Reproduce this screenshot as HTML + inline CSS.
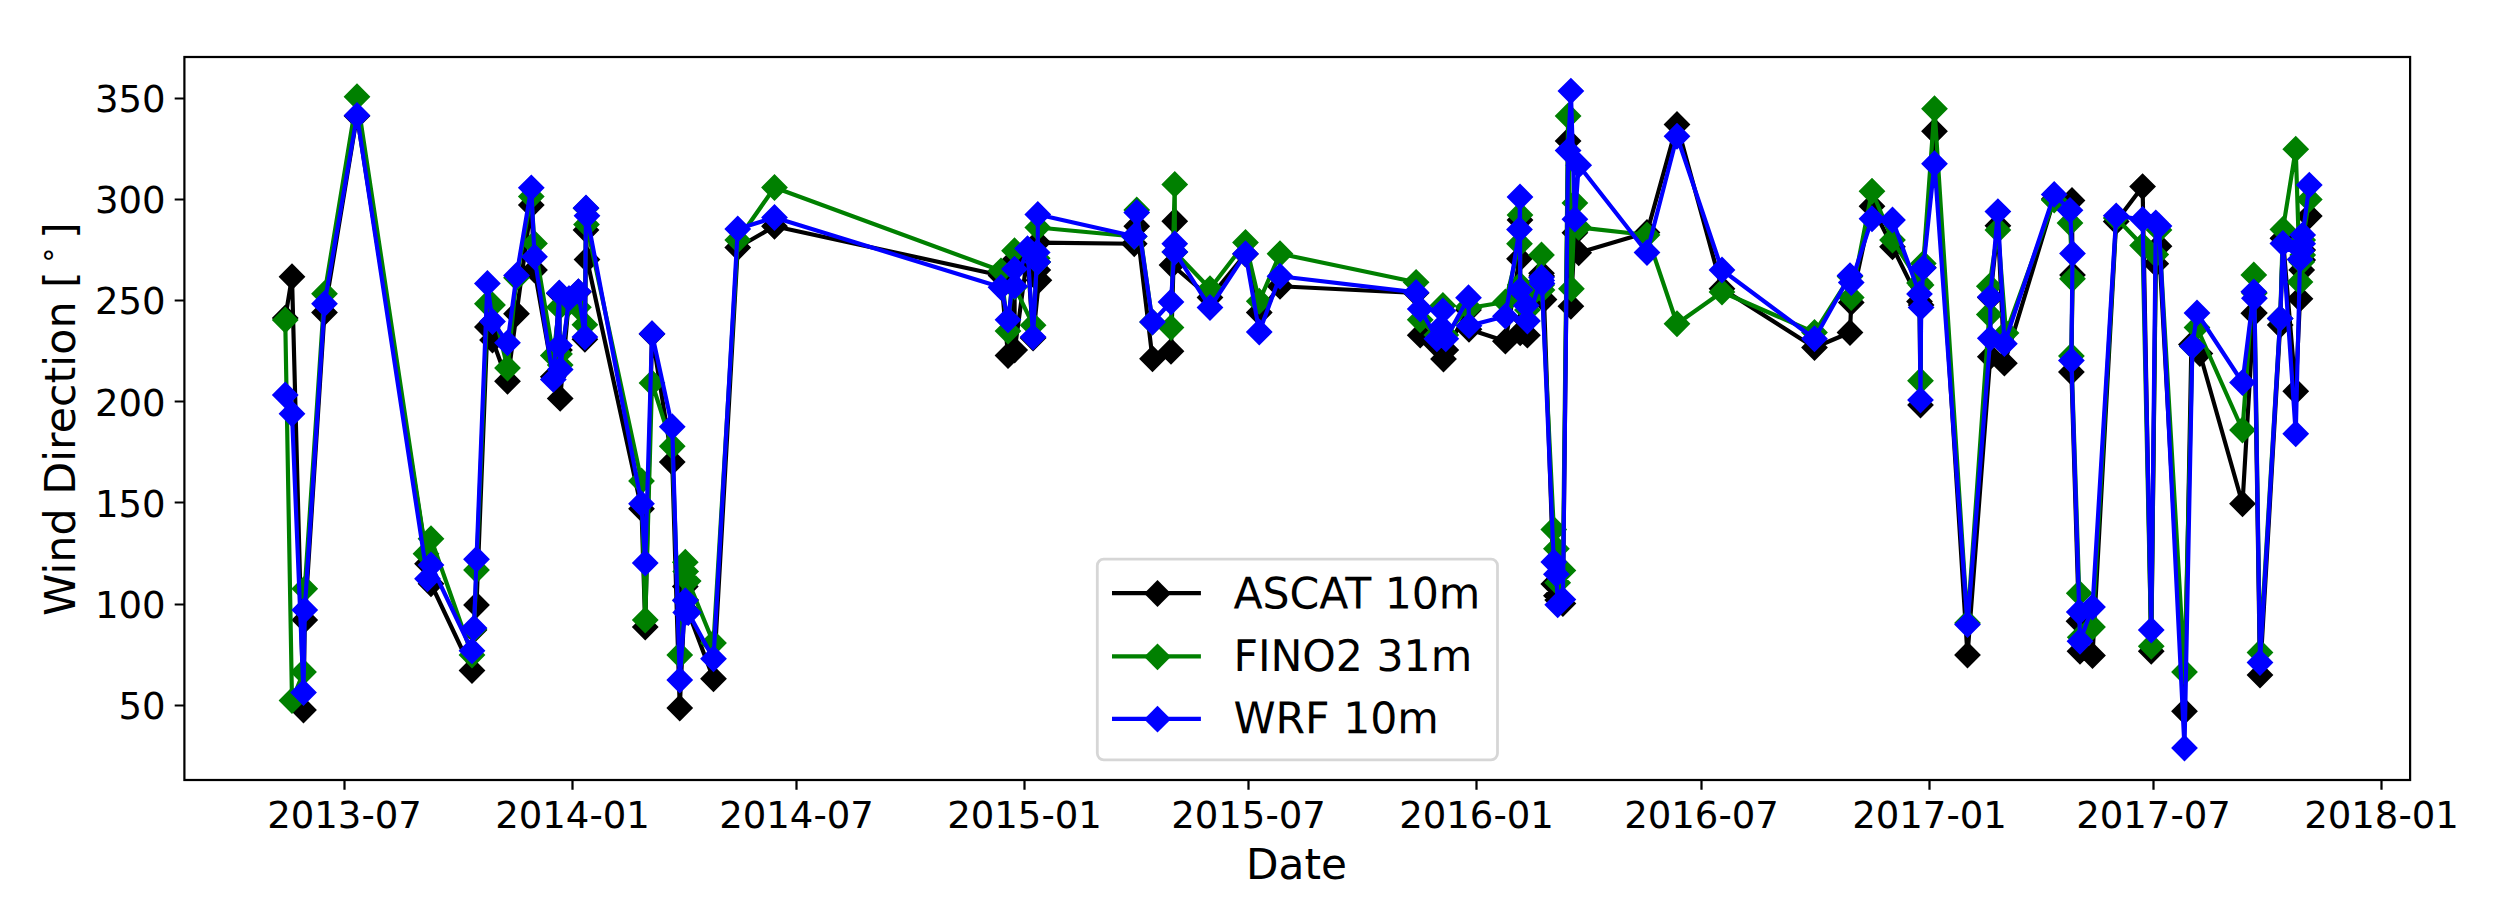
<!DOCTYPE html>
<html lang="en"><head><meta charset="utf-8"><title>Wind Direction</title>
<style>html,body{margin:0;padding:0;background:#fff}body{width:2496px;height:924px;overflow:hidden}svg{display:block}</style>
</head><body>
<svg width="2496" height="924" viewBox="0 0 2496 924" font-family="'DejaVu Sans','Liberation Sans',sans-serif" fill="#000">
<rect x="0" y="0" width="2496" height="924" fill="#fff"/>
<clipPath id="ax"><rect x="184.4" y="57.0" width="2225.7" height="723.0"/></clipPath>
<g clip-path="url(#ax)">
<polyline points="285.25,318 292,276.75 303.5,710 304.75,620 324.5,312.5 357,116 427.5,563.75 431,583.75 472,670.5 474,630 476.5,605 487.4,327 492.5,340 507.5,381.25 516.5,313.75 531.3,205.1 534.5,270 553.3,376.8 559.3,293.5 559.5,350 560.2,398.4 569,299 578.4,292 584.9,339.3 586,230.1 587,259.5 641.5,508.75 645.25,627 652,334 672.25,462 679.75,708 685.3,586.5 685.7,600 688.2,612 713.5,678.75 737.75,247.5 774.5,226.25 1001,275.5 1008,355.5 1014.5,260 1014.7,350 1027.5,255 1033.1,338 1038.9,280.3 1037.8,270 1037.8,242.6 1134.25,243.75 1136.75,226.25 1152.5,358.75 1171,351.25 1174.75,221.25 1172,265 1210,297.5 1245.5,254 1259.25,312.5 1280,286.25 1416.1,293 1420.2,335.2 1436.9,345 1441.2,336 1443.5,359 1445.8,350 1468.5,310 1469,329.3 1505.4,341.2 1519.5,258.75 1520,220 1520.2,332.9 1526.2,320 1527.4,335.2 1541.5,273.3 1541.7,276 1544,299.5 1553.8,584 1556.4,595.7 1557.7,600 1562.9,603.5 1568.1,140.9 1570.9,306.25 1574.9,232.8 1578.7,252.8 1647,232.5 1677,124.5 1722,288.75 1814.5,347.5 1850,332.5 1851.25,302.5 1872,206.25 1892.5,246.8 1919.5,301.4 1920.5,405 1921.1,305 1923.3,267.5 1934.5,131.25 1967.5,655 1990.3,356.7 1990.3,297.5 1997.9,225.7 2004.4,363.2 2054.2,199 2072,200.5 2072.5,275 2071.4,372 2079,621.25 2080,651.25 2092.5,655.5 2116.2,221.5 2142.6,186.6 2151.25,651.25 2155.8,263.7 2159,246.2 2184.5,711.25 2191.4,344.4 2199.9,353.5 2242.5,503.75 2253.8,313.2 2254.4,313 2260,675 2280.2,325 2282.9,238.3 2295.75,391.25 2300,298.8 2301.7,270 2302.7,260 2302.7,250 2309.3,216.1" fill="none" stroke="#000000" stroke-width="4.17" stroke-linejoin="round" stroke-linecap="square"/>
<path d="M285.25 304.6l13.4 13.4l-13.4 13.4l-13.4 -13.4zM292 263.35l13.4 13.4l-13.4 13.4l-13.4 -13.4zM303.5 696.6l13.4 13.4l-13.4 13.4l-13.4 -13.4zM304.75 606.6l13.4 13.4l-13.4 13.4l-13.4 -13.4zM324.5 299.1l13.4 13.4l-13.4 13.4l-13.4 -13.4zM357 102.6l13.4 13.4l-13.4 13.4l-13.4 -13.4zM427.5 550.35l13.4 13.4l-13.4 13.4l-13.4 -13.4zM431 570.35l13.4 13.4l-13.4 13.4l-13.4 -13.4zM472 657.1l13.4 13.4l-13.4 13.4l-13.4 -13.4zM474 616.6l13.4 13.4l-13.4 13.4l-13.4 -13.4zM476.5 591.6l13.4 13.4l-13.4 13.4l-13.4 -13.4zM487.4 313.6l13.4 13.4l-13.4 13.4l-13.4 -13.4zM492.5 326.6l13.4 13.4l-13.4 13.4l-13.4 -13.4zM507.5 367.85l13.4 13.4l-13.4 13.4l-13.4 -13.4zM516.5 300.35l13.4 13.4l-13.4 13.4l-13.4 -13.4zM531.3 191.7l13.4 13.4l-13.4 13.4l-13.4 -13.4zM534.5 256.6l13.4 13.4l-13.4 13.4l-13.4 -13.4zM553.3 363.4l13.4 13.4l-13.4 13.4l-13.4 -13.4zM559.3 280.1l13.4 13.4l-13.4 13.4l-13.4 -13.4zM559.5 336.6l13.4 13.4l-13.4 13.4l-13.4 -13.4zM560.2 385l13.4 13.4l-13.4 13.4l-13.4 -13.4zM569 285.6l13.4 13.4l-13.4 13.4l-13.4 -13.4zM578.4 278.6l13.4 13.4l-13.4 13.4l-13.4 -13.4zM584.9 325.9l13.4 13.4l-13.4 13.4l-13.4 -13.4zM586 216.7l13.4 13.4l-13.4 13.4l-13.4 -13.4zM587 246.1l13.4 13.4l-13.4 13.4l-13.4 -13.4zM641.5 495.35l13.4 13.4l-13.4 13.4l-13.4 -13.4zM645.25 613.6l13.4 13.4l-13.4 13.4l-13.4 -13.4zM652 320.6l13.4 13.4l-13.4 13.4l-13.4 -13.4zM672.25 448.6l13.4 13.4l-13.4 13.4l-13.4 -13.4zM679.75 694.6l13.4 13.4l-13.4 13.4l-13.4 -13.4zM685.3 573.1l13.4 13.4l-13.4 13.4l-13.4 -13.4zM685.7 586.6l13.4 13.4l-13.4 13.4l-13.4 -13.4zM688.2 598.6l13.4 13.4l-13.4 13.4l-13.4 -13.4zM713.5 665.35l13.4 13.4l-13.4 13.4l-13.4 -13.4zM737.75 234.1l13.4 13.4l-13.4 13.4l-13.4 -13.4zM774.5 212.85l13.4 13.4l-13.4 13.4l-13.4 -13.4zM1001 262.1l13.4 13.4l-13.4 13.4l-13.4 -13.4zM1008 342.1l13.4 13.4l-13.4 13.4l-13.4 -13.4zM1014.5 246.6l13.4 13.4l-13.4 13.4l-13.4 -13.4zM1014.7 336.6l13.4 13.4l-13.4 13.4l-13.4 -13.4zM1027.5 241.6l13.4 13.4l-13.4 13.4l-13.4 -13.4zM1033.1 324.6l13.4 13.4l-13.4 13.4l-13.4 -13.4zM1038.9 266.9l13.4 13.4l-13.4 13.4l-13.4 -13.4zM1037.8 256.6l13.4 13.4l-13.4 13.4l-13.4 -13.4zM1037.8 229.2l13.4 13.4l-13.4 13.4l-13.4 -13.4zM1134.25 230.35l13.4 13.4l-13.4 13.4l-13.4 -13.4zM1136.75 212.85l13.4 13.4l-13.4 13.4l-13.4 -13.4zM1152.5 345.35l13.4 13.4l-13.4 13.4l-13.4 -13.4zM1171 337.85l13.4 13.4l-13.4 13.4l-13.4 -13.4zM1174.75 207.85l13.4 13.4l-13.4 13.4l-13.4 -13.4zM1172 251.6l13.4 13.4l-13.4 13.4l-13.4 -13.4zM1210 284.1l13.4 13.4l-13.4 13.4l-13.4 -13.4zM1245.5 240.6l13.4 13.4l-13.4 13.4l-13.4 -13.4zM1259.25 299.1l13.4 13.4l-13.4 13.4l-13.4 -13.4zM1280 272.85l13.4 13.4l-13.4 13.4l-13.4 -13.4zM1416.1 279.6l13.4 13.4l-13.4 13.4l-13.4 -13.4zM1420.2 321.8l13.4 13.4l-13.4 13.4l-13.4 -13.4zM1436.9 331.6l13.4 13.4l-13.4 13.4l-13.4 -13.4zM1441.2 322.6l13.4 13.4l-13.4 13.4l-13.4 -13.4zM1443.5 345.6l13.4 13.4l-13.4 13.4l-13.4 -13.4zM1445.8 336.6l13.4 13.4l-13.4 13.4l-13.4 -13.4zM1468.5 296.6l13.4 13.4l-13.4 13.4l-13.4 -13.4zM1469 315.9l13.4 13.4l-13.4 13.4l-13.4 -13.4zM1505.4 327.8l13.4 13.4l-13.4 13.4l-13.4 -13.4zM1519.5 245.35l13.4 13.4l-13.4 13.4l-13.4 -13.4zM1520 206.6l13.4 13.4l-13.4 13.4l-13.4 -13.4zM1520.2 319.5l13.4 13.4l-13.4 13.4l-13.4 -13.4zM1526.2 306.6l13.4 13.4l-13.4 13.4l-13.4 -13.4zM1527.4 321.8l13.4 13.4l-13.4 13.4l-13.4 -13.4zM1541.5 259.9l13.4 13.4l-13.4 13.4l-13.4 -13.4zM1541.7 262.6l13.4 13.4l-13.4 13.4l-13.4 -13.4zM1544 286.1l13.4 13.4l-13.4 13.4l-13.4 -13.4zM1553.8 570.6l13.4 13.4l-13.4 13.4l-13.4 -13.4zM1556.4 582.3l13.4 13.4l-13.4 13.4l-13.4 -13.4zM1557.7 586.6l13.4 13.4l-13.4 13.4l-13.4 -13.4zM1562.9 590.1l13.4 13.4l-13.4 13.4l-13.4 -13.4zM1568.1 127.5l13.4 13.4l-13.4 13.4l-13.4 -13.4zM1570.9 292.85l13.4 13.4l-13.4 13.4l-13.4 -13.4zM1574.9 219.4l13.4 13.4l-13.4 13.4l-13.4 -13.4zM1578.7 239.4l13.4 13.4l-13.4 13.4l-13.4 -13.4zM1647 219.1l13.4 13.4l-13.4 13.4l-13.4 -13.4zM1677 111.1l13.4 13.4l-13.4 13.4l-13.4 -13.4zM1722 275.35l13.4 13.4l-13.4 13.4l-13.4 -13.4zM1814.5 334.1l13.4 13.4l-13.4 13.4l-13.4 -13.4zM1850 319.1l13.4 13.4l-13.4 13.4l-13.4 -13.4zM1851.25 289.1l13.4 13.4l-13.4 13.4l-13.4 -13.4zM1872 192.85l13.4 13.4l-13.4 13.4l-13.4 -13.4zM1892.5 233.4l13.4 13.4l-13.4 13.4l-13.4 -13.4zM1919.5 288l13.4 13.4l-13.4 13.4l-13.4 -13.4zM1920.5 391.6l13.4 13.4l-13.4 13.4l-13.4 -13.4zM1921.1 291.6l13.4 13.4l-13.4 13.4l-13.4 -13.4zM1923.3 254.1l13.4 13.4l-13.4 13.4l-13.4 -13.4zM1934.5 117.85l13.4 13.4l-13.4 13.4l-13.4 -13.4zM1967.5 641.6l13.4 13.4l-13.4 13.4l-13.4 -13.4zM1990.3 343.3l13.4 13.4l-13.4 13.4l-13.4 -13.4zM1990.3 284.1l13.4 13.4l-13.4 13.4l-13.4 -13.4zM1997.9 212.3l13.4 13.4l-13.4 13.4l-13.4 -13.4zM2004.4 349.8l13.4 13.4l-13.4 13.4l-13.4 -13.4zM2054.2 185.6l13.4 13.4l-13.4 13.4l-13.4 -13.4zM2072 187.1l13.4 13.4l-13.4 13.4l-13.4 -13.4zM2072.5 261.6l13.4 13.4l-13.4 13.4l-13.4 -13.4zM2071.4 358.6l13.4 13.4l-13.4 13.4l-13.4 -13.4zM2079 607.85l13.4 13.4l-13.4 13.4l-13.4 -13.4zM2080 637.85l13.4 13.4l-13.4 13.4l-13.4 -13.4zM2092.5 642.1l13.4 13.4l-13.4 13.4l-13.4 -13.4zM2116.2 208.1l13.4 13.4l-13.4 13.4l-13.4 -13.4zM2142.6 173.2l13.4 13.4l-13.4 13.4l-13.4 -13.4zM2151.25 637.85l13.4 13.4l-13.4 13.4l-13.4 -13.4zM2155.8 250.3l13.4 13.4l-13.4 13.4l-13.4 -13.4zM2159 232.8l13.4 13.4l-13.4 13.4l-13.4 -13.4zM2184.5 697.85l13.4 13.4l-13.4 13.4l-13.4 -13.4zM2191.4 331l13.4 13.4l-13.4 13.4l-13.4 -13.4zM2199.9 340.1l13.4 13.4l-13.4 13.4l-13.4 -13.4zM2242.5 490.35l13.4 13.4l-13.4 13.4l-13.4 -13.4zM2253.8 299.8l13.4 13.4l-13.4 13.4l-13.4 -13.4zM2254.4 299.6l13.4 13.4l-13.4 13.4l-13.4 -13.4zM2260 661.6l13.4 13.4l-13.4 13.4l-13.4 -13.4zM2280.2 311.6l13.4 13.4l-13.4 13.4l-13.4 -13.4zM2282.9 224.9l13.4 13.4l-13.4 13.4l-13.4 -13.4zM2295.75 377.85l13.4 13.4l-13.4 13.4l-13.4 -13.4zM2300 285.4l13.4 13.4l-13.4 13.4l-13.4 -13.4zM2301.7 256.6l13.4 13.4l-13.4 13.4l-13.4 -13.4zM2302.7 246.6l13.4 13.4l-13.4 13.4l-13.4 -13.4zM2302.7 236.6l13.4 13.4l-13.4 13.4l-13.4 -13.4zM2309.3 202.7l13.4 13.4l-13.4 13.4l-13.4 -13.4z" fill="#000000"/>
<polyline points="285.25,320 292,700.5 303.5,672 304.75,588.75 324.5,293.75 357,96.75 426,553.75 431,538.75 472,655 474,629 476.5,570 487.4,303.75 492.5,305 507.5,368 516.5,277.8 531.3,196.6 534.5,243.4 553.3,355.5 559.3,307.2 559.5,354 560.2,365 569,303 578.4,307.3 584.9,324.7 586,208.3 586.5,224.4 641.5,481 645.25,620 652,383 672.25,446.25 679.75,655 685.3,562.2 685.7,571.4 688.2,581.1 713.5,643 737.75,240 774.5,187.5 1001,270.8 1008,331.1 1014.5,250.7 1014.7,287 1033.1,325.2 1037.2,258.3 1037.8,262 1037.8,227.5 1134.25,236.5 1136.75,210 1152.5,322 1171,327.5 1174.75,184.4 1174.9,252 1210,288.75 1245.5,242.5 1259.25,301.25 1280,253.75 1416.1,282.3 1420.2,319.8 1436.9,335 1441.2,328 1442.9,305.5 1445.8,335 1468.5,306.7 1469,308 1505.4,302 1519.5,243.75 1520,215 1520.2,285 1526.2,300 1527.4,310 1541.5,255 1541.7,285 1542,290 1553.8,529.5 1556.4,548.7 1557.7,582.7 1562.9,570.4 1568.1,116 1571.4,288.75 1574.9,203 1578.7,227.4 1647,235 1677,323.75 1722,292 1814.5,332.5 1850,276.5 1851.25,297.5 1872,191.25 1892.5,240 1919.5,283 1920.5,380.75 1921.1,285 1923.3,263.5 1934.5,108.75 1967.5,623 1989.3,314.5 1989.3,286.3 1997.9,230 2006,333 2054.2,200 2070,223 2072.5,278.75 2071.4,356 2079.25,593.25 2080.2,637.3 2092.5,627 2116.2,218 2142.6,245.5 2151.25,646.25 2155.8,254.6 2159,229.9 2184.5,672 2192.4,346.3 2197,327.5 2242.5,430 2253.8,274.9 2254.4,293 2260,652.5 2280.2,318.5 2282.9,229.4 2295.75,149.2 2300,282 2301.7,262 2302.7,255 2302.7,240 2309.3,199.4" fill="none" stroke="#008000" stroke-width="4.17" stroke-linejoin="round" stroke-linecap="square"/>
<path d="M285.25 306.6l13.4 13.4l-13.4 13.4l-13.4 -13.4zM292 687.1l13.4 13.4l-13.4 13.4l-13.4 -13.4zM303.5 658.6l13.4 13.4l-13.4 13.4l-13.4 -13.4zM304.75 575.35l13.4 13.4l-13.4 13.4l-13.4 -13.4zM324.5 280.35l13.4 13.4l-13.4 13.4l-13.4 -13.4zM357 83.35l13.4 13.4l-13.4 13.4l-13.4 -13.4zM426 540.35l13.4 13.4l-13.4 13.4l-13.4 -13.4zM431 525.35l13.4 13.4l-13.4 13.4l-13.4 -13.4zM472 641.6l13.4 13.4l-13.4 13.4l-13.4 -13.4zM474 615.6l13.4 13.4l-13.4 13.4l-13.4 -13.4zM476.5 556.6l13.4 13.4l-13.4 13.4l-13.4 -13.4zM487.4 290.35l13.4 13.4l-13.4 13.4l-13.4 -13.4zM492.5 291.6l13.4 13.4l-13.4 13.4l-13.4 -13.4zM507.5 354.6l13.4 13.4l-13.4 13.4l-13.4 -13.4zM516.5 264.4l13.4 13.4l-13.4 13.4l-13.4 -13.4zM531.3 183.2l13.4 13.4l-13.4 13.4l-13.4 -13.4zM534.5 230l13.4 13.4l-13.4 13.4l-13.4 -13.4zM553.3 342.1l13.4 13.4l-13.4 13.4l-13.4 -13.4zM559.3 293.8l13.4 13.4l-13.4 13.4l-13.4 -13.4zM559.5 340.6l13.4 13.4l-13.4 13.4l-13.4 -13.4zM560.2 351.6l13.4 13.4l-13.4 13.4l-13.4 -13.4zM569 289.6l13.4 13.4l-13.4 13.4l-13.4 -13.4zM578.4 293.9l13.4 13.4l-13.4 13.4l-13.4 -13.4zM584.9 311.3l13.4 13.4l-13.4 13.4l-13.4 -13.4zM586 194.9l13.4 13.4l-13.4 13.4l-13.4 -13.4zM586.5 211l13.4 13.4l-13.4 13.4l-13.4 -13.4zM641.5 467.6l13.4 13.4l-13.4 13.4l-13.4 -13.4zM645.25 606.6l13.4 13.4l-13.4 13.4l-13.4 -13.4zM652 369.6l13.4 13.4l-13.4 13.4l-13.4 -13.4zM672.25 432.85l13.4 13.4l-13.4 13.4l-13.4 -13.4zM679.75 641.6l13.4 13.4l-13.4 13.4l-13.4 -13.4zM685.3 548.8l13.4 13.4l-13.4 13.4l-13.4 -13.4zM685.7 558l13.4 13.4l-13.4 13.4l-13.4 -13.4zM688.2 567.7l13.4 13.4l-13.4 13.4l-13.4 -13.4zM713.5 629.6l13.4 13.4l-13.4 13.4l-13.4 -13.4zM737.75 226.6l13.4 13.4l-13.4 13.4l-13.4 -13.4zM774.5 174.1l13.4 13.4l-13.4 13.4l-13.4 -13.4zM1001 257.4l13.4 13.4l-13.4 13.4l-13.4 -13.4zM1008 317.7l13.4 13.4l-13.4 13.4l-13.4 -13.4zM1014.5 237.3l13.4 13.4l-13.4 13.4l-13.4 -13.4zM1014.7 273.6l13.4 13.4l-13.4 13.4l-13.4 -13.4zM1033.1 311.8l13.4 13.4l-13.4 13.4l-13.4 -13.4zM1037.2 244.9l13.4 13.4l-13.4 13.4l-13.4 -13.4zM1037.8 248.6l13.4 13.4l-13.4 13.4l-13.4 -13.4zM1037.8 214.1l13.4 13.4l-13.4 13.4l-13.4 -13.4zM1134.25 223.1l13.4 13.4l-13.4 13.4l-13.4 -13.4zM1136.75 196.6l13.4 13.4l-13.4 13.4l-13.4 -13.4zM1152.5 308.6l13.4 13.4l-13.4 13.4l-13.4 -13.4zM1171 314.1l13.4 13.4l-13.4 13.4l-13.4 -13.4zM1174.75 171l13.4 13.4l-13.4 13.4l-13.4 -13.4zM1174.9 238.6l13.4 13.4l-13.4 13.4l-13.4 -13.4zM1210 275.35l13.4 13.4l-13.4 13.4l-13.4 -13.4zM1245.5 229.1l13.4 13.4l-13.4 13.4l-13.4 -13.4zM1259.25 287.85l13.4 13.4l-13.4 13.4l-13.4 -13.4zM1280 240.35l13.4 13.4l-13.4 13.4l-13.4 -13.4zM1416.1 268.9l13.4 13.4l-13.4 13.4l-13.4 -13.4zM1420.2 306.4l13.4 13.4l-13.4 13.4l-13.4 -13.4zM1436.9 321.6l13.4 13.4l-13.4 13.4l-13.4 -13.4zM1441.2 314.6l13.4 13.4l-13.4 13.4l-13.4 -13.4zM1442.9 292.1l13.4 13.4l-13.4 13.4l-13.4 -13.4zM1445.8 321.6l13.4 13.4l-13.4 13.4l-13.4 -13.4zM1468.5 293.3l13.4 13.4l-13.4 13.4l-13.4 -13.4zM1469 294.6l13.4 13.4l-13.4 13.4l-13.4 -13.4zM1505.4 288.6l13.4 13.4l-13.4 13.4l-13.4 -13.4zM1519.5 230.35l13.4 13.4l-13.4 13.4l-13.4 -13.4zM1520 201.6l13.4 13.4l-13.4 13.4l-13.4 -13.4zM1520.2 271.6l13.4 13.4l-13.4 13.4l-13.4 -13.4zM1526.2 286.6l13.4 13.4l-13.4 13.4l-13.4 -13.4zM1527.4 296.6l13.4 13.4l-13.4 13.4l-13.4 -13.4zM1541.5 241.6l13.4 13.4l-13.4 13.4l-13.4 -13.4zM1541.7 271.6l13.4 13.4l-13.4 13.4l-13.4 -13.4zM1542 276.6l13.4 13.4l-13.4 13.4l-13.4 -13.4zM1553.8 516.1l13.4 13.4l-13.4 13.4l-13.4 -13.4zM1556.4 535.3l13.4 13.4l-13.4 13.4l-13.4 -13.4zM1557.7 569.3l13.4 13.4l-13.4 13.4l-13.4 -13.4zM1562.9 557l13.4 13.4l-13.4 13.4l-13.4 -13.4zM1568.1 102.6l13.4 13.4l-13.4 13.4l-13.4 -13.4zM1571.4 275.35l13.4 13.4l-13.4 13.4l-13.4 -13.4zM1574.9 189.6l13.4 13.4l-13.4 13.4l-13.4 -13.4zM1578.7 214l13.4 13.4l-13.4 13.4l-13.4 -13.4zM1647 221.6l13.4 13.4l-13.4 13.4l-13.4 -13.4zM1677 310.35l13.4 13.4l-13.4 13.4l-13.4 -13.4zM1722 278.6l13.4 13.4l-13.4 13.4l-13.4 -13.4zM1814.5 319.1l13.4 13.4l-13.4 13.4l-13.4 -13.4zM1850 263.1l13.4 13.4l-13.4 13.4l-13.4 -13.4zM1851.25 284.1l13.4 13.4l-13.4 13.4l-13.4 -13.4zM1872 177.85l13.4 13.4l-13.4 13.4l-13.4 -13.4zM1892.5 226.6l13.4 13.4l-13.4 13.4l-13.4 -13.4zM1919.5 269.6l13.4 13.4l-13.4 13.4l-13.4 -13.4zM1920.5 367.35l13.4 13.4l-13.4 13.4l-13.4 -13.4zM1921.1 271.6l13.4 13.4l-13.4 13.4l-13.4 -13.4zM1923.3 250.1l13.4 13.4l-13.4 13.4l-13.4 -13.4zM1934.5 95.35l13.4 13.4l-13.4 13.4l-13.4 -13.4zM1967.5 609.6l13.4 13.4l-13.4 13.4l-13.4 -13.4zM1989.3 301.1l13.4 13.4l-13.4 13.4l-13.4 -13.4zM1989.3 272.9l13.4 13.4l-13.4 13.4l-13.4 -13.4zM1997.9 216.6l13.4 13.4l-13.4 13.4l-13.4 -13.4zM2006 319.6l13.4 13.4l-13.4 13.4l-13.4 -13.4zM2054.2 186.6l13.4 13.4l-13.4 13.4l-13.4 -13.4zM2070 209.6l13.4 13.4l-13.4 13.4l-13.4 -13.4zM2072.5 265.35l13.4 13.4l-13.4 13.4l-13.4 -13.4zM2071.4 342.6l13.4 13.4l-13.4 13.4l-13.4 -13.4zM2079.25 579.85l13.4 13.4l-13.4 13.4l-13.4 -13.4zM2080.2 623.9l13.4 13.4l-13.4 13.4l-13.4 -13.4zM2092.5 613.6l13.4 13.4l-13.4 13.4l-13.4 -13.4zM2116.2 204.6l13.4 13.4l-13.4 13.4l-13.4 -13.4zM2142.6 232.1l13.4 13.4l-13.4 13.4l-13.4 -13.4zM2151.25 632.85l13.4 13.4l-13.4 13.4l-13.4 -13.4zM2155.8 241.2l13.4 13.4l-13.4 13.4l-13.4 -13.4zM2159 216.5l13.4 13.4l-13.4 13.4l-13.4 -13.4zM2184.5 658.6l13.4 13.4l-13.4 13.4l-13.4 -13.4zM2192.4 332.9l13.4 13.4l-13.4 13.4l-13.4 -13.4zM2197 314.1l13.4 13.4l-13.4 13.4l-13.4 -13.4zM2242.5 416.6l13.4 13.4l-13.4 13.4l-13.4 -13.4zM2253.8 261.5l13.4 13.4l-13.4 13.4l-13.4 -13.4zM2254.4 279.6l13.4 13.4l-13.4 13.4l-13.4 -13.4zM2260 639.1l13.4 13.4l-13.4 13.4l-13.4 -13.4zM2280.2 305.1l13.4 13.4l-13.4 13.4l-13.4 -13.4zM2282.9 216l13.4 13.4l-13.4 13.4l-13.4 -13.4zM2295.75 135.8l13.4 13.4l-13.4 13.4l-13.4 -13.4zM2300 268.6l13.4 13.4l-13.4 13.4l-13.4 -13.4zM2301.7 248.6l13.4 13.4l-13.4 13.4l-13.4 -13.4zM2302.7 241.6l13.4 13.4l-13.4 13.4l-13.4 -13.4zM2302.7 226.6l13.4 13.4l-13.4 13.4l-13.4 -13.4zM2309.3 186l13.4 13.4l-13.4 13.4l-13.4 -13.4z" fill="#008000"/>
<polyline points="285.25,395 292,413.75 303.5,692.5 304.75,610 324.5,303.75 357,115.5 427.5,578.75 431,565 472,650.75 474,628 476.5,559.25 487.4,283.5 492.5,321.5 507.5,342.8 516.5,275.5 531.3,187.8 534.5,256.75 553.3,379.4 559.3,292.9 559.5,345.6 560.2,369.4 569,298.6 578.4,291.6 584.9,337.1 586,208 587,215.8 641.5,503.75 645.25,563 652,333.75 672.25,426.75 679.75,680 685.3,600.6 685.7,612.5 688.2,612.5 713.5,658.75 737.75,229 774.5,217.5 1001,287.3 1008,319.8 1014.5,269.1 1014.7,286.2 1027.5,248.6 1033.1,337.1 1037.2,252.4 1037.8,262.1 1037.8,214.5 1134.25,236.25 1136.75,212.5 1152.5,322 1171,302 1174.75,243.75 1174.9,252 1210,307.5 1245.5,253.75 1259.25,332 1280,276.25 1416.1,292.4 1420.2,309 1436.9,338.8 1441.2,327 1442.9,310.8 1445.8,338.8 1468.5,297.7 1469,325.7 1505.4,316.2 1519.5,229.5 1520,197 1520.2,290 1526.2,305.5 1527.4,321 1541.5,277.5 1541.7,280.5 1542,283.5 1553.8,562 1556.4,574.3 1557.7,604.8 1562.9,599.6 1568.1,150.6 1570.9,91.1 1574.9,219.2 1578.7,165.2 1647,252.5 1677,136.25 1722,270 1814.5,338.75 1850,275.6 1851.25,282.5 1872,218.75 1892.5,220 1919.5,293.9 1920.5,400 1921.1,307.4 1923.3,267.9 1934.5,163.75 1967.5,624.5 1990.3,338.3 1990.3,297.1 1997.9,211.6 2004.4,343.7 2054.2,194.4 2070,210.3 2072.5,253.5 2071.4,360.5 2079.25,612 2080,641.25 2092.5,607 2116.2,215.8 2142.6,219.5 2151.25,630 2155.8,222.8 2159,226 2184.5,748 2192.4,346.3 2197,313 2242.5,382.5 2253.8,291.8 2254.4,298.3 2260,662.5 2280.2,318.5 2282.9,243.5 2295.75,433.75 2300,259.4 2301.7,250.7 2302.7,243.7 2302.7,235 2309.3,185.1" fill="none" stroke="#0000ff" stroke-width="4.17" stroke-linejoin="round" stroke-linecap="square"/>
<path d="M285.25 381.6l13.4 13.4l-13.4 13.4l-13.4 -13.4zM292 400.35l13.4 13.4l-13.4 13.4l-13.4 -13.4zM303.5 679.1l13.4 13.4l-13.4 13.4l-13.4 -13.4zM304.75 596.6l13.4 13.4l-13.4 13.4l-13.4 -13.4zM324.5 290.35l13.4 13.4l-13.4 13.4l-13.4 -13.4zM357 102.1l13.4 13.4l-13.4 13.4l-13.4 -13.4zM427.5 565.35l13.4 13.4l-13.4 13.4l-13.4 -13.4zM431 551.6l13.4 13.4l-13.4 13.4l-13.4 -13.4zM472 637.35l13.4 13.4l-13.4 13.4l-13.4 -13.4zM474 614.6l13.4 13.4l-13.4 13.4l-13.4 -13.4zM476.5 545.85l13.4 13.4l-13.4 13.4l-13.4 -13.4zM487.4 270.1l13.4 13.4l-13.4 13.4l-13.4 -13.4zM492.5 308.1l13.4 13.4l-13.4 13.4l-13.4 -13.4zM507.5 329.4l13.4 13.4l-13.4 13.4l-13.4 -13.4zM516.5 262.1l13.4 13.4l-13.4 13.4l-13.4 -13.4zM531.3 174.4l13.4 13.4l-13.4 13.4l-13.4 -13.4zM534.5 243.35l13.4 13.4l-13.4 13.4l-13.4 -13.4zM553.3 366l13.4 13.4l-13.4 13.4l-13.4 -13.4zM559.3 279.5l13.4 13.4l-13.4 13.4l-13.4 -13.4zM559.5 332.2l13.4 13.4l-13.4 13.4l-13.4 -13.4zM560.2 356l13.4 13.4l-13.4 13.4l-13.4 -13.4zM569 285.2l13.4 13.4l-13.4 13.4l-13.4 -13.4zM578.4 278.2l13.4 13.4l-13.4 13.4l-13.4 -13.4zM584.9 323.7l13.4 13.4l-13.4 13.4l-13.4 -13.4zM586 194.6l13.4 13.4l-13.4 13.4l-13.4 -13.4zM587 202.4l13.4 13.4l-13.4 13.4l-13.4 -13.4zM641.5 490.35l13.4 13.4l-13.4 13.4l-13.4 -13.4zM645.25 549.6l13.4 13.4l-13.4 13.4l-13.4 -13.4zM652 320.35l13.4 13.4l-13.4 13.4l-13.4 -13.4zM672.25 413.35l13.4 13.4l-13.4 13.4l-13.4 -13.4zM679.75 666.6l13.4 13.4l-13.4 13.4l-13.4 -13.4zM685.3 587.2l13.4 13.4l-13.4 13.4l-13.4 -13.4zM685.7 599.1l13.4 13.4l-13.4 13.4l-13.4 -13.4zM688.2 599.1l13.4 13.4l-13.4 13.4l-13.4 -13.4zM713.5 645.35l13.4 13.4l-13.4 13.4l-13.4 -13.4zM737.75 215.6l13.4 13.4l-13.4 13.4l-13.4 -13.4zM774.5 204.1l13.4 13.4l-13.4 13.4l-13.4 -13.4zM1001 273.9l13.4 13.4l-13.4 13.4l-13.4 -13.4zM1008 306.4l13.4 13.4l-13.4 13.4l-13.4 -13.4zM1014.5 255.7l13.4 13.4l-13.4 13.4l-13.4 -13.4zM1014.7 272.8l13.4 13.4l-13.4 13.4l-13.4 -13.4zM1027.5 235.2l13.4 13.4l-13.4 13.4l-13.4 -13.4zM1033.1 323.7l13.4 13.4l-13.4 13.4l-13.4 -13.4zM1037.2 239l13.4 13.4l-13.4 13.4l-13.4 -13.4zM1037.8 248.7l13.4 13.4l-13.4 13.4l-13.4 -13.4zM1037.8 201.1l13.4 13.4l-13.4 13.4l-13.4 -13.4zM1134.25 222.85l13.4 13.4l-13.4 13.4l-13.4 -13.4zM1136.75 199.1l13.4 13.4l-13.4 13.4l-13.4 -13.4zM1152.5 308.6l13.4 13.4l-13.4 13.4l-13.4 -13.4zM1171 288.6l13.4 13.4l-13.4 13.4l-13.4 -13.4zM1174.75 230.35l13.4 13.4l-13.4 13.4l-13.4 -13.4zM1174.9 238.6l13.4 13.4l-13.4 13.4l-13.4 -13.4zM1210 294.1l13.4 13.4l-13.4 13.4l-13.4 -13.4zM1245.5 240.35l13.4 13.4l-13.4 13.4l-13.4 -13.4zM1259.25 318.6l13.4 13.4l-13.4 13.4l-13.4 -13.4zM1280 262.85l13.4 13.4l-13.4 13.4l-13.4 -13.4zM1416.1 279l13.4 13.4l-13.4 13.4l-13.4 -13.4zM1420.2 295.6l13.4 13.4l-13.4 13.4l-13.4 -13.4zM1436.9 325.4l13.4 13.4l-13.4 13.4l-13.4 -13.4zM1441.2 313.6l13.4 13.4l-13.4 13.4l-13.4 -13.4zM1442.9 297.4l13.4 13.4l-13.4 13.4l-13.4 -13.4zM1445.8 325.4l13.4 13.4l-13.4 13.4l-13.4 -13.4zM1468.5 284.3l13.4 13.4l-13.4 13.4l-13.4 -13.4zM1469 312.3l13.4 13.4l-13.4 13.4l-13.4 -13.4zM1505.4 302.8l13.4 13.4l-13.4 13.4l-13.4 -13.4zM1519.5 216.1l13.4 13.4l-13.4 13.4l-13.4 -13.4zM1520 183.6l13.4 13.4l-13.4 13.4l-13.4 -13.4zM1520.2 276.6l13.4 13.4l-13.4 13.4l-13.4 -13.4zM1526.2 292.1l13.4 13.4l-13.4 13.4l-13.4 -13.4zM1527.4 307.6l13.4 13.4l-13.4 13.4l-13.4 -13.4zM1541.5 264.1l13.4 13.4l-13.4 13.4l-13.4 -13.4zM1541.7 267.1l13.4 13.4l-13.4 13.4l-13.4 -13.4zM1542 270.1l13.4 13.4l-13.4 13.4l-13.4 -13.4zM1553.8 548.6l13.4 13.4l-13.4 13.4l-13.4 -13.4zM1556.4 560.9l13.4 13.4l-13.4 13.4l-13.4 -13.4zM1557.7 591.4l13.4 13.4l-13.4 13.4l-13.4 -13.4zM1562.9 586.2l13.4 13.4l-13.4 13.4l-13.4 -13.4zM1568.1 137.2l13.4 13.4l-13.4 13.4l-13.4 -13.4zM1570.9 77.7l13.4 13.4l-13.4 13.4l-13.4 -13.4zM1574.9 205.8l13.4 13.4l-13.4 13.4l-13.4 -13.4zM1578.7 151.8l13.4 13.4l-13.4 13.4l-13.4 -13.4zM1647 239.1l13.4 13.4l-13.4 13.4l-13.4 -13.4zM1677 122.85l13.4 13.4l-13.4 13.4l-13.4 -13.4zM1722 256.6l13.4 13.4l-13.4 13.4l-13.4 -13.4zM1814.5 325.35l13.4 13.4l-13.4 13.4l-13.4 -13.4zM1850 262.2l13.4 13.4l-13.4 13.4l-13.4 -13.4zM1851.25 269.1l13.4 13.4l-13.4 13.4l-13.4 -13.4zM1872 205.35l13.4 13.4l-13.4 13.4l-13.4 -13.4zM1892.5 206.6l13.4 13.4l-13.4 13.4l-13.4 -13.4zM1919.5 280.5l13.4 13.4l-13.4 13.4l-13.4 -13.4zM1920.5 386.6l13.4 13.4l-13.4 13.4l-13.4 -13.4zM1921.1 294l13.4 13.4l-13.4 13.4l-13.4 -13.4zM1923.3 254.5l13.4 13.4l-13.4 13.4l-13.4 -13.4zM1934.5 150.35l13.4 13.4l-13.4 13.4l-13.4 -13.4zM1967.5 611.1l13.4 13.4l-13.4 13.4l-13.4 -13.4zM1990.3 324.9l13.4 13.4l-13.4 13.4l-13.4 -13.4zM1990.3 283.7l13.4 13.4l-13.4 13.4l-13.4 -13.4zM1997.9 198.2l13.4 13.4l-13.4 13.4l-13.4 -13.4zM2004.4 330.3l13.4 13.4l-13.4 13.4l-13.4 -13.4zM2054.2 181l13.4 13.4l-13.4 13.4l-13.4 -13.4zM2070 196.9l13.4 13.4l-13.4 13.4l-13.4 -13.4zM2072.5 240.1l13.4 13.4l-13.4 13.4l-13.4 -13.4zM2071.4 347.1l13.4 13.4l-13.4 13.4l-13.4 -13.4zM2079.25 598.6l13.4 13.4l-13.4 13.4l-13.4 -13.4zM2080 627.85l13.4 13.4l-13.4 13.4l-13.4 -13.4zM2092.5 593.6l13.4 13.4l-13.4 13.4l-13.4 -13.4zM2116.2 202.4l13.4 13.4l-13.4 13.4l-13.4 -13.4zM2142.6 206.1l13.4 13.4l-13.4 13.4l-13.4 -13.4zM2151.25 616.6l13.4 13.4l-13.4 13.4l-13.4 -13.4zM2155.8 209.4l13.4 13.4l-13.4 13.4l-13.4 -13.4zM2159 212.6l13.4 13.4l-13.4 13.4l-13.4 -13.4zM2184.5 734.6l13.4 13.4l-13.4 13.4l-13.4 -13.4zM2192.4 332.9l13.4 13.4l-13.4 13.4l-13.4 -13.4zM2197 299.6l13.4 13.4l-13.4 13.4l-13.4 -13.4zM2242.5 369.1l13.4 13.4l-13.4 13.4l-13.4 -13.4zM2253.8 278.4l13.4 13.4l-13.4 13.4l-13.4 -13.4zM2254.4 284.9l13.4 13.4l-13.4 13.4l-13.4 -13.4zM2260 649.1l13.4 13.4l-13.4 13.4l-13.4 -13.4zM2280.2 305.1l13.4 13.4l-13.4 13.4l-13.4 -13.4zM2282.9 230.1l13.4 13.4l-13.4 13.4l-13.4 -13.4zM2295.75 420.35l13.4 13.4l-13.4 13.4l-13.4 -13.4zM2300 246l13.4 13.4l-13.4 13.4l-13.4 -13.4zM2301.7 237.3l13.4 13.4l-13.4 13.4l-13.4 -13.4zM2302.7 230.3l13.4 13.4l-13.4 13.4l-13.4 -13.4zM2302.7 221.6l13.4 13.4l-13.4 13.4l-13.4 -13.4zM2309.3 171.7l13.4 13.4l-13.4 13.4l-13.4 -13.4z" fill="#0000ff"/>
</g>
<path d="M184.4 705.5H174.68M184.4 604.5H174.68M184.4 502.5H174.68M184.4 401.5H174.68M184.4 300.5H174.68M184.4 199.5H174.68M184.4 98.5H174.68M344.5 780V789.72M572.5 780V789.72M796.5 780V789.72M1024.5 780V789.72M1248.5 780V789.72M1476.5 780V789.72M1701.5 780V789.72M1929.5 780V789.72M2153.5 780V789.72M2381.5 780V789.72" stroke="#000" stroke-width="2.22" fill="none"/>
<rect x="184.4" y="57.0" width="2225.7" height="723.0" fill="none" stroke="#000" stroke-width="2.22" stroke-linejoin="miter"/>
<g font-size="38.1">
<text transform="translate(165.6 719.06) scale(0.972 1)" text-anchor="end">50</text>
<text transform="translate(165.6 617.91) scale(0.972 1)" text-anchor="end">100</text>
<text transform="translate(165.6 516.77) scale(0.972 1)" text-anchor="end">150</text>
<text transform="translate(165.6 415.62) scale(0.972 1)" text-anchor="end">200</text>
<text transform="translate(165.6 314.48) scale(0.972 1)" text-anchor="end">250</text>
<text transform="translate(165.6 213.34) scale(0.972 1)" text-anchor="end">300</text>
<text transform="translate(165.6 112.19) scale(0.972 1)" text-anchor="end">350</text>
<text transform="translate(344.5 827.7) scale(0.972 1)" text-anchor="middle">2013-07</text>
<text transform="translate(572.5 827.7) scale(0.972 1)" text-anchor="middle">2014-01</text>
<text transform="translate(796.5 827.7) scale(0.972 1)" text-anchor="middle">2014-07</text>
<text transform="translate(1024.5 827.7) scale(0.972 1)" text-anchor="middle">2015-01</text>
<text transform="translate(1248.5 827.7) scale(0.972 1)" text-anchor="middle">2015-07</text>
<text transform="translate(1476.5 827.7) scale(0.972 1)" text-anchor="middle">2016-01</text>
<text transform="translate(1701.5 827.7) scale(0.972 1)" text-anchor="middle">2016-07</text>
<text transform="translate(1929.5 827.7) scale(0.972 1)" text-anchor="middle">2017-01</text>
<text transform="translate(2153.5 827.7) scale(0.972 1)" text-anchor="middle">2017-07</text>
<text transform="translate(2381.5 827.7) scale(0.972 1)" text-anchor="middle">2018-01</text>
</g>
<text x="1296.5" y="878.9" text-anchor="middle" font-size="42.2">Date</text>
<text transform="translate(75.3 419.2) rotate(-90)" text-anchor="middle" font-size="42.800000000000004">Wind Direction [<tspan font-size="30.5" dy="-9.6" dx="8.4">°</tspan><tspan dy="9.6" dx="8.4">]</tspan></text>
<rect x="1097.3" y="559.1" width="400.2" height="200.7" rx="6.5" ry="6.5" fill="#fff" fill-opacity="0.8" stroke="#cccccc" stroke-opacity="0.8" stroke-width="2.78"/>
<path d="M1112 593.1H1200.9" stroke="#000000" stroke-width="4.17" fill="none"/>
<path d="M1157.5 580.1l13.4 13.4l-13.4 13.4l-13.4 -13.4z" fill="#000000"/>
<text transform="translate(1233.4 608.5) rotate(0.03) scale(1 1.02)" font-size="42.6">ASCAT 10m</text>
<path d="M1112 656.4H1200.9" stroke="#008000" stroke-width="4.17" fill="none"/>
<path d="M1157.5 643.4l13.4 13.4l-13.4 13.4l-13.4 -13.4z" fill="#008000"/>
<text transform="translate(1233.4 670.9) rotate(0.03) scale(1 1.02)" font-size="42.6">FINO2 31m</text>
<path d="M1112 718.8H1200.9" stroke="#0000ff" stroke-width="4.17" fill="none"/>
<path d="M1157.5 705.8l13.4 13.4l-13.4 13.4l-13.4 -13.4z" fill="#0000ff"/>
<text transform="translate(1233.4 733.2) rotate(0.03) scale(1 1.02)" font-size="42.6">WRF 10m</text>
</svg>
</body></html>
